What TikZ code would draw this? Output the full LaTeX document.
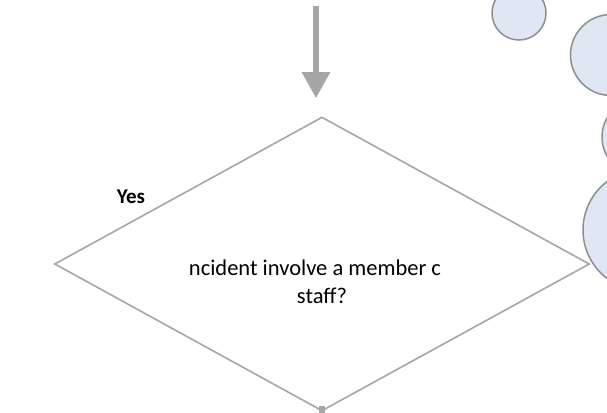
\documentclass[tikz,border=0pt]{standalone}
\usepackage{fontspec}
\setmainfont{Carlito}
\usetikzlibrary{shapes.geometric,arrows.meta}
\newcommand{\flowGray}[0]{black!35}
\definecolor{bubbleFill}{HTML}{DFE7F5}
\definecolor{bubbleLine}{HTML}{8E8E8E}

\begin{document}
\begin{tikzpicture}[x=1pt, y=-1pt]
  \tikzset{decision/.style={diamond, draw=\flowGray, line width=1.6pt, aspect=1.82,
                            minimum width=535pt, minimum height=294pt, inner sep=0pt},
           question/.style={align=center, inner sep=0pt, font=\fontsize{22.5}{28}\selectfont},
           bubble/.style={circle, draw=bubbleLine, fill=bubbleFill, line width=1.5pt, inner sep=0pt},
           flowline/.style={draw=\flowGray, line width=5.5pt},
           flowarrow/.style={flowline, -{Triangle[width=27pt,length=26pt]}}}
  \useasboundingbox (0,0) rectangle (607,412);
  \clip (0,0) rectangle (607,412);
  % speech bubbles on the right
  \node[bubble, minimum size=54pt] (bub1) at (519,13) {};
  \node[bubble, minimum size=81pt] (bub2) at (611,55) {};
  \node[bubble, minimum size=76pt] (bub3) at (640,137) {};
  \node[bubble, minimum size=122pt] (bub4) at (644,230) {};
  % decision
  \node[decision] (dec) at (322,264) {};
  \node[question] (q) at ([yshift=-18pt]dec.center) {ncident involve a member c\hspace*{14pt}\\staff?};
  \node[font=\fontsize{21}{24}\selectfont\bfseries] (yes) at (131,197) {Yes};
  \coordinate (in) at (316,6);
  \draw[flowarrow, shorten >=18pt] (in) -- (in |- dec.north);
  \draw[flowline] ([yshift=6pt]dec.south) -- ++(0,20);
\end{tikzpicture}
\end{document}
